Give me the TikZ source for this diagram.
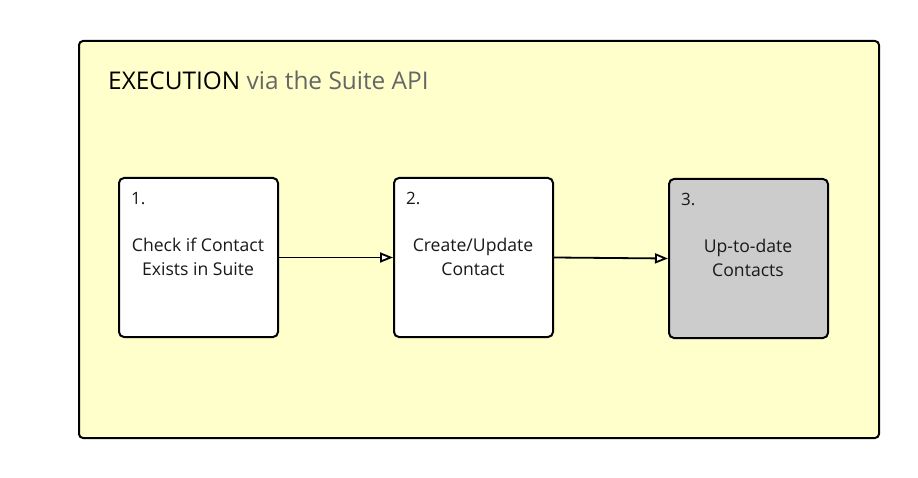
\documentclass[tikz,border=0pt]{standalone}
\usepackage{fontspec}
\setmainfont{Open Sans}
\usetikzlibrary{arrows.meta}
\definecolor{panel}{HTML}{FFFFCC}
\definecolor{stepgray}{HTML}{CCCCCC}
\definecolor{titlegray}{HTML}{666666}
\tikzset{
  stepbox/.style={draw=black, line width=2pt, rounded corners=5pt, minimum width=159pt, minimum height=159pt, inner sep=0pt},
  steptext/.style={align=center, font=\fontsize{17.6}{24.5}\selectfont, text=black!90},
  stepnum/.style={anchor=base west, font=\fontsize{17}{19}\selectfont, text=black!90},
  flow/.style={line width=1.8pt, -{Triangle[open, length=13pt, width=10pt, fill=white]}}
}
\begin{document}
\begin{tikzpicture}[x=1pt, y=-1pt]
\useasboundingbox (0,0) rectangle (918,478);
\node[draw=black, line width=2pt, fill=panel, rounded corners=4pt, minimum width=800pt, minimum height=397pt, anchor=north west, inner sep=0pt] (panel) at (78,40) {};
\node[anchor=base west, inner sep=0pt, font=\fontsize{24.4}{28}\selectfont] (title) at (108,90) {EXECUTION \textcolor{titlegray}{via the Suite API}};
\node[stepbox, fill=white, anchor=north west] (s1) at (118,177) {};
\node[stepbox, fill=white, anchor=north west] (s2) at (393,177) {};
\node[stepbox, fill=stepgray, anchor=north west] (s3) at (668,178) {};
\node[stepnum, inner sep=0pt] (n1) at (131,205) {1.};
\node[stepnum, inner sep=0pt] (n2) at (406,205) {2.};
\node[stepnum, inner sep=0pt] (n3) at (681,206) {3.};
\node[steptext] (t1) at (198,257) {Check if Contact\\Exists in Suite};
\node[steptext] (t2) at (473,257) {Create/Update\\Contact};
\node[steptext] (t3) at (748,258) {Up-to-date\\Contacts};
\draw[flow] (s1.east) -- (s2.west);
\draw[flow] (s2.east) -- (s3.west);
\end{tikzpicture}
\end{document}
